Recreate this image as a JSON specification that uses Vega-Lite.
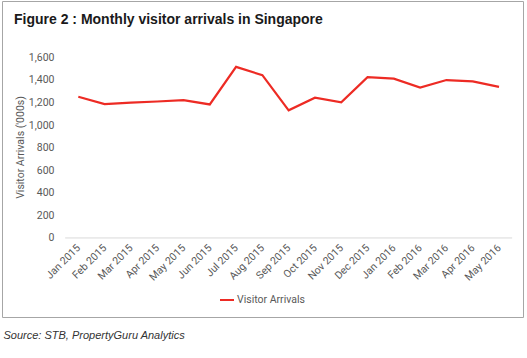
{
  "$schema": "https://vega.github.io/schema/vega-lite/v6.json",
  "width": 521,
  "height": 316,
  "autosize": {"type": "none"},
  "padding": {"left": 2, "top": 1, "right": 4, "bottom": 41},
  "background": "white",
  "title": {
    "text": "Figure 2 : Monthly visitor arrivals in Singapore",
    "anchor": "start",
    "frame": "group",
    "orient": "top",
    "offset": -37,
    "dx": 12,
    "baseline": "alphabetic",
    "font": "Liberation Sans",
    "fontSize": 14,
    "fontWeight": "bold",
    "color": "#1a1a1a"
  },
  "datasets": {
    "arrivals": [
      {"idx": 0, "month": "Jan 2015", "arrivals": 1250},
      {"idx": 1, "month": "Feb 2015", "arrivals": 1185},
      {"idx": 2, "month": "Mar 2015", "arrivals": 1198},
      {"idx": 3, "month": "Apr 2015", "arrivals": 1208},
      {"idx": 4, "month": "May 2015", "arrivals": 1220},
      {"idx": 5, "month": "Jun 2015", "arrivals": 1182},
      {"idx": 6, "month": "Jul 2015", "arrivals": 1515},
      {"idx": 7, "month": "Aug 2015", "arrivals": 1441},
      {"idx": 8, "month": "Sep 2015", "arrivals": 1130},
      {"idx": 9, "month": "Oct 2015", "arrivals": 1242},
      {"idx": 10, "month": "Nov 2015", "arrivals": 1200},
      {"idx": 11, "month": "Dec 2015", "arrivals": 1423},
      {"idx": 12, "month": "Jan 2016", "arrivals": 1410},
      {"idx": 13, "month": "Feb 2016", "arrivals": 1332},
      {"idx": 14, "month": "Mar 2016", "arrivals": 1398},
      {"idx": 15, "month": "Apr 2016", "arrivals": 1386},
      {"idx": 16, "month": "May 2016", "arrivals": 1338}
    ],
    "baseline": [
      {"start": -0.5, "end": 16.5, "level": 0}
    ]
  },
  "layer": [
    {
      "data": {"name": "baseline"},
      "mark": {"type": "rule", "color": "#d9d9d9", "strokeWidth": 1},
      "encoding": {
        "x": {
          "field": "start",
          "type": "quantitative",
          "scale": {"domain": [-2.902, 16.912], "nice": false, "zero": false},
          "axis": {
            "values": [0, 1, 2, 3, 4, 5, 6, 7, 8, 9, 10, 11, 12, 13, 14, 15, 16],
            "labelExpr": "['Jan 2015','Feb 2015','Mar 2015','Apr 2015','May 2015','Jun 2015','Jul 2015','Aug 2015','Sep 2015','Oct 2015','Nov 2015','Dec 2015','Jan 2016','Feb 2016','Mar 2016','Apr 2016','May 2016'][datum.value]",
            "orient": "bottom",
            "offset": -79,
            "domain": false,
            "ticks": false,
            "tickSize": 0,
            "grid": false,
            "labelAngle": -45,
            "labelAlign": "right",
            "labelBaseline": "middle",
            "labelPadding": 8,
            "labelFont": "Roboto",
            "labelFontSize": 10.5,
            "labelColor": "#595959",
            "labelOverlap": false,
            "labelFlush": false,
            "title": "Source: STB, PropertyGuru Analytics",
            "titleX": 1,
            "titleY": 100,
            "titleAlign": "left",
            "titleAnchor": null,
            "titleBaseline": "alphabetic",
            "titleFont": "Liberation Sans",
            "titleFontSize": 11,
            "titleFontStyle": "italic",
            "titleFontWeight": "normal",
            "titleColor": "#333333"
          }
        },
        "x2": {"field": "end"},
        "y": {
          "field": "level",
          "type": "quantitative",
          "scale": {"domain": [-700, 2098], "nice": false, "zero": false},
          "axis": {
            "values": [0, 200, 400, 600, 800, 1000, 1200, 1400, 1600],
            "format": ",d",
            "offset": -63,
            "domain": false,
            "ticks": false,
            "tickSize": 0,
            "grid": false,
            "labelOverlap": false,
            "labelPadding": 11,
            "labelFont": "Roboto",
            "labelFontSize": 10.5,
            "labelColor": "#595959",
            "title": "Visitor Arrivals ('000s)",
            "titleX": -45,
            "titleY": 146,
            "titleAngle": -90,
            "titleAlign": "center",
            "titleBaseline": "middle",
            "titleFont": "Roboto",
            "titleFontSize": 10.5,
            "titleFontWeight": "normal",
            "titleColor": "#595959"
          }
        }
      }
    },
    {
      "data": {"name": "arrivals"},
      "mark": {"type": "line", "strokeWidth": 2.2},
      "encoding": {
        "x": {
          "field": "idx",
          "type": "quantitative",
          "scale": {"domain": [-2.902, 16.912], "nice": false, "zero": false},
          "axis": {
            "values": [0, 1, 2, 3, 4, 5, 6, 7, 8, 9, 10, 11, 12, 13, 14, 15, 16],
            "labelExpr": "['Jan 2015','Feb 2015','Mar 2015','Apr 2015','May 2015','Jun 2015','Jul 2015','Aug 2015','Sep 2015','Oct 2015','Nov 2015','Dec 2015','Jan 2016','Feb 2016','Mar 2016','Apr 2016','May 2016'][datum.value]",
            "orient": "bottom",
            "offset": -79,
            "domain": false,
            "ticks": false,
            "tickSize": 0,
            "grid": false,
            "labelAngle": -45,
            "labelAlign": "right",
            "labelBaseline": "middle",
            "labelPadding": 8,
            "labelFont": "Roboto",
            "labelFontSize": 10.5,
            "labelColor": "#595959",
            "labelOverlap": false,
            "labelFlush": false,
            "title": "Source: STB, PropertyGuru Analytics",
            "titleX": 1,
            "titleY": 100,
            "titleAlign": "left",
            "titleAnchor": null,
            "titleBaseline": "alphabetic",
            "titleFont": "Liberation Sans",
            "titleFontSize": 11,
            "titleFontStyle": "italic",
            "titleFontWeight": "normal",
            "titleColor": "#333333"
          }
        },
        "y": {
          "field": "arrivals",
          "type": "quantitative",
          "scale": {"domain": [-700, 2098], "nice": false, "zero": false},
          "axis": {
            "values": [0, 200, 400, 600, 800, 1000, 1200, 1400, 1600],
            "format": ",d",
            "offset": -63,
            "domain": false,
            "ticks": false,
            "tickSize": 0,
            "grid": false,
            "labelOverlap": false,
            "labelPadding": 11,
            "labelFont": "Roboto",
            "labelFontSize": 10.5,
            "labelColor": "#595959",
            "title": "Visitor Arrivals ('000s)",
            "titleX": -45,
            "titleY": 146,
            "titleAngle": -90,
            "titleAlign": "center",
            "titleBaseline": "middle",
            "titleFont": "Roboto",
            "titleFontSize": 10.5,
            "titleFontWeight": "normal",
            "titleColor": "#595959"
          }
        },
        "color": {
          "datum": "Visitor Arrivals",
          "scale": {"range": ["#ed2b24"]},
          "legend": {
            "orient": "none",
            "legendX": 217,
            "legendY": 291,
            "title": null,
            "padding": 0,
            "symbolType": "stroke",
            "symbolSize": 196,
            "symbolStrokeWidth": 2,
            "labelOffset": 2,
            "labelFont": "Roboto",
            "labelFontSize": 10.5,
            "labelColor": "#595959"
          }
        }
      }
    }
  ],
  "config": {
    "view": {"stroke": "#a6a6a6", "strokeWidth": 1},
    "axis": {"labelOverlap": false}
  }
}
